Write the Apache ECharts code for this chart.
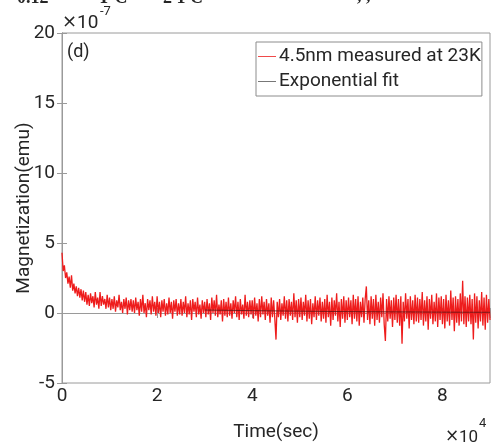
<!DOCTYPE html>
<html>
<head>
<meta charset="utf-8">
<script src="https://cdn.jsdelivr.net/npm/echarts@6/dist/echarts.min.js"></script>
<style>html,body{margin:0;padding:0;background:#fff}#c{width:493px;height:448px}</style>
</head>
<body>
<div id="c"></div>
<script>
// Time in units of 1e4 sec
const timeE4 = [
0,.025,.05,.075,.1,.125,.15,.175,.2,.225,.25,.275,.3,.325,.35,.375,.4,.425,.45,.475,
.5,.525,.55,.575,.6,.625,.65,.675,.7,.725,.75,.775,.8,.825,.85,.875,.9,.925,.95,.975,
1,1.025,1.05,1.075,1.1,1.125,1.15,1.175,1.2,1.225,1.25,1.275,1.3,1.325,1.35,1.375,1.4,1.425,1.45,1.475,
1.5,1.525,1.55,1.575,1.6,1.625,1.65,1.675,1.7,1.725,1.75,1.775,1.8,1.825,1.85,1.875,1.9,1.925,1.95,1.975,
2,2.025,2.05,2.075,2.1,2.125,2.15,2.175,2.2,2.225,2.25,2.275,2.3,2.325,2.35,2.375,2.4,2.425,2.45,2.475,
2.5,2.525,2.55,2.575,2.6,2.625,2.65,2.675,2.7,2.725,2.75,2.775,2.8,2.825,2.85,2.875,2.9,2.925,2.95,2.975,
3,3.025,3.05,3.075,3.1,3.125,3.15,3.175,3.2,3.225,3.25,3.275,3.3,3.325,3.35,3.375,3.4,3.425,3.45,3.475,
3.5,3.525,3.55,3.575,3.6,3.625,3.65,3.675,3.7,3.725,3.75,3.775,3.8,3.825,3.85,3.875,3.9,3.925,3.95,3.975,
4,4.025,4.05,4.075,4.1,4.125,4.15,4.175,4.2,4.225,4.25,4.275,4.3,4.325,4.35,4.375,4.4,4.425,4.45,4.475,
4.5,4.525,4.55,4.575,4.6,4.625,4.65,4.675,4.7,4.725,4.75,4.775,4.8,4.825,4.85,4.875,4.9,4.925,4.95,4.975,
5,5.025,5.05,5.075,5.1,5.125,5.15,5.175,5.2,5.225,5.25,5.275,5.3,5.325,5.35,5.375,5.4,5.425,5.45,5.475,
5.5,5.525,5.55,5.575,5.6,5.625,5.65,5.675,5.7,5.725,5.75,5.775,5.8,5.825,5.85,5.875,5.9,5.925,5.95,5.975,
6,6.025,6.05,6.075,6.1,6.125,6.15,6.175,6.2,6.225,6.25,6.275,6.3,6.325,6.35,6.375,6.4,6.425,6.45,6.475,
6.5,6.525,6.55,6.575,6.6,6.625,6.65,6.675,6.7,6.725,6.75,6.775,6.8,6.825,6.85,6.875,6.9,6.925,6.95,6.975,
7,7.025,7.05,7.075,7.1,7.125,7.15,7.175,7.2,7.225,7.25,7.275,7.3,7.325,7.35,7.375,7.4,7.425,7.45,7.475,
7.5,7.525,7.55,7.575,7.6,7.625,7.65,7.675,7.7,7.725,7.75,7.775,7.8,7.825,7.85,7.875,7.9,7.925,7.95,7.975,
8,8.025,8.05,8.075,8.1,8.125,8.15,8.175,8.2,8.225,8.25,8.275,8.3,8.325,8.35,8.375,8.4,8.425,8.45,8.475,
8.5,8.525,8.55,8.575,8.6,8.625,8.65,8.675,8.7,8.725,8.75,8.775,8.8,8.825,8.85,8.875,8.9,8.925,8.95,8.975,
9];
// Magnetization in units of 1e-7 emu
const measured = [
4.3,3.0,3.4,2.5,2.9,2.1,2.6,1.8,2.7,1.6,2.1,1.4,1.9,1.2,1.8,1.1,1.7,0.9,1.6,0.8,
1.5,0.6,1.3,0.5,1.4,0.7,1.2,0.4,1.5,0.6,1.1,0.3,1.5,0.5,1.2,0.6,1.0,0.3,1.3,0.4,
1.1,0.2,1.0,0.3,1.2,0.1,0.9,0.4,1.3,0.2,0.8,0.0,1.0,0.3,1.1,-0.1,0.9,0.2,1.0,0.1,
0.9,0.0,1.1,0.2,0.8,-0.2,1.0,0.1,1.3,0.0,0.7,-0.3,1.0,0.2,0.9,-0.1,1.2,0.1,0.8,-0.2,
1.2,0.0,0.8,-0.3,0.9,0.1,1.0,-0.2,0.7,-0.1,1.1,0.0,0.8,-0.4,0.9,0.1,1.0,-0.2,0.7,-0.1,
1.0,-0.2,0.8,0.0,1.2,-0.3,0.7,-0.1,0.9,-0.5,1.0,0.1,0.8,-0.3,1.1,-0.1,0.6,-0.4,0.9,0.0,
0.8,-0.3,1.0,-0.1,0.7,-0.5,1.1,0.0,0.9,-0.2,1.3,-0.3,0.6,-0.1,0.9,-0.6,1.0,-0.2,0.8,-0.3,
1.1,-0.2,0.7,-0.4,0.9,0.0,1.2,-0.3,0.8,-0.5,1.0,-0.1,0.6,-0.4,1.3,-0.2,0.8,-0.3,0.9,-0.1,
0.9,-0.4,1.1,-0.2,0.7,-0.6,1.0,-0.3,1.2,-0.1,0.8,-0.5,1.0,-0.2,0.7,-0.7,1.1,-0.3,0.9,-0.4,
-1.9,0.8,-0.3,1.0,-0.5,0.7,-0.2,1.2,-0.4,0.9,-0.6,1.0,-0.2,0.8,-0.5,1.4,-0.3,0.9,-0.7,1.0,
-0.3,1.1,-0.5,0.8,-0.2,1.3,-0.6,0.9,-0.4,1.0,-0.8,0.7,-0.3,1.2,-0.5,0.9,-0.2,1.1,-0.6,0.8,
-0.4,1.0,-0.7,1.3,-0.3,0.8,-0.9,1.1,-0.5,0.9,-0.2,1.4,-0.6,0.8,-1.0,1.0,-0.4,1.2,-0.7,0.9,
-0.5,1.1,-0.3,0.9,-0.8,1.3,-0.4,1.0,-0.6,1.2,-0.9,0.8,-0.3,1.1,-0.7,1.0,1.9,-0.5,0.9,-0.8,
1.2,-0.4,1.0,-0.9,1.3,-0.5,0.8,-0.7,1.1,-0.3,1.4,-0.8,-2.0,1.0,-0.6,1.2,-0.4,0.9,-1.0,1.1,
-0.5,1.3,-0.7,1.0,-0.9,1.2,-2.2,0.8,-0.6,1.4,-0.4,1.0,-1.1,1.2,-0.5,0.9,-0.8,1.3,-0.6,1.1,
-0.7,1.0,-0.5,1.5,-0.9,0.9,-0.6,1.2,-1.2,1.0,-0.4,1.3,-0.8,0.8,-0.6,1.4,-1.0,1.1,-0.5,1.2,
-0.8,1.0,-1.1,1.3,-0.6,0.9,-0.9,1.6,-0.5,1.1,-1.3,1.2,-0.7,1.0,-0.9,1.4,-0.6,2.3,-0.8,1.2,
-1.0,1.1,-0.6,1.3,-0.8,1.0,-1.9,1.4,-0.7,1.2,-1.1,0.9,-0.6,1.5,-0.9,1.1,-1.2,1.3,-0.7,1.0,
-0.5];
const fitTimeE4 = [3, 4, 5, 6, 7, 8, 9];
const fitValues = [0.21, 0.17, 0.13, 0.10, 0.08, 0.06, 0.05];
const xTicks = [0, 2, 4, 6, 8];
const yTicks = [-5, 0, 5, 10, 15, 20];
const seriesNames = ['4.5nm measured at 23K', 'Exponential fit'];

const FONT = 'Roboto';
const TXT = '#262626';
const AX = '#9a9a9a';

const measuredData = timeE4.map((t, i) => [t, measured[i]]);
const fitData = fitTimeE4.map((t, i) => [t, fitValues[i]]);

function txt(x, y, text, size, opts) {
  return Object.assign({type: 'text', x: x, y: y, silent: true, style: Object.assign({
    text: text, fontSize: size, fontFamily: FONT, fill: TXT, verticalAlign: 'middle', align: 'left'
  }, (opts && opts.style) || {})}, (opts && opts.el) || {});
}

const chart = echarts.init(document.getElementById('c'), null, {renderer: 'canvas'});
const tickStyle = {show: true, inside: true, length: 5, lineStyle: {color: AX, width: 1}};
chart.setOption({
  animation: false,
  backgroundColor: '#fff',
  grid: {left: 62, right: 3, top: 33, bottom: 65, show: true, borderColor: AX, borderWidth: 1, backgroundColor: 'transparent'},
  xAxis: [{
    type: 'value', min: 0, max: 9, interval: 2, position: 'bottom',
    axisLine: {show: true, lineStyle: {color: AX}}, axisTick: tickStyle, splitLine: {show: false},
    axisLabel: {margin: 4, fontFamily: FONT, fontSize: 19, color: TXT,
      formatter: v => xTicks.indexOf(v) >= 0 ? String(v) : ''}
  }, {
    type: 'value', min: 0, max: 9, interval: 2, position: 'top',
    axisLine: {show: true, lineStyle: {color: AX}}, axisTick: tickStyle, splitLine: {show: false},
    axisLabel: {show: false}
  }],
  yAxis: [{
    type: 'value', min: -5, max: 20, interval: 5, position: 'left',
    axisLine: {show: true, lineStyle: {color: AX}}, axisTick: tickStyle, splitLine: {show: false},
    axisLabel: {margin: 7, fontFamily: FONT, fontSize: 19, color: TXT,
      formatter: v => yTicks.indexOf(v) >= 0 ? String(v) : ''}
  }, {
    type: 'value', min: -5, max: 20, interval: 5, position: 'right',
    axisLine: {show: true, lineStyle: {color: AX}}, axisTick: tickStyle, splitLine: {show: false},
    axisLabel: {show: false}
  }],
  legend: {
    orient: 'vertical', left: 256, top: 42,
    backgroundColor: '#fff', borderColor: '#8c8c8c', borderWidth: 1, borderRadius: 0,
    padding: [5, 1, 5, 2], itemGap: 6, itemWidth: 18, itemHeight: 1,
    textStyle: {fontFamily: FONT, fontSize: 19, color: TXT, padding: [0, 0, 0, -2]},
    data: [
      {name: seriesNames[0], icon: 'rect', itemStyle: {color: '#f04a4a'}},
      {name: seriesNames[1], icon: 'rect', itemStyle: {color: '#777777'}}
    ]
  },
  series: [{
    name: seriesNames[0], type: 'line', data: measuredData, showSymbol: false, symbol: 'none',
    lineStyle: {color: '#ee1c1c', width: 1.3}, itemStyle: {color: '#ee1c1c'}, sampling: null, z: 2
  }, {
    name: seriesNames[1], type: 'line', data: fitData, showSymbol: false, symbol: 'none',
    lineStyle: {color: '#5a1414', width: 0.8}, itemStyle: {color: '#5a1414'}, z: 3
  }],
  graphic: [
    txt(17, -2, '0.12', 18, {style: {fontFamily: 'Liberation Serif', fontWeight: 'bold'}}),
    txt(98, -2, 'T C', 18, {style: {fontFamily: 'Liberation Serif', fontWeight: 'bold'}}),
    txt(163, -2, '2 1 C', 18, {style: {fontFamily: 'Liberation Serif', fontWeight: 'bold'}}),
    txt(357, -4, ', ,', 18, {style: {fontFamily: 'Liberation Serif', fontWeight: 'bold'}}),
    txt(62, 22, '\u00d7', 18, {style: {fontFamily: 'DejaVu Sans'}}),
    txt(77, 23, '10', 19),
    txt(100, 12, '-7', 13),
    txt(67, 52, '(d)', 18),
    txt(445, 437, '\u00d7', 17, {style: {fontFamily: 'DejaVu Sans'}}),
    txt(459, 438, '10', 17),
    txt(479, 424, '4', 13),
    txt(276, 432, 'Time(sec)', 19, {style: {align: 'center'}}),
    txt(24, 208, 'Magnetization(emu)', 19, {style: {align: 'center'}, el: {rotation: Math.PI / 2}})
  ]
});
</script>
</body>
</html>
